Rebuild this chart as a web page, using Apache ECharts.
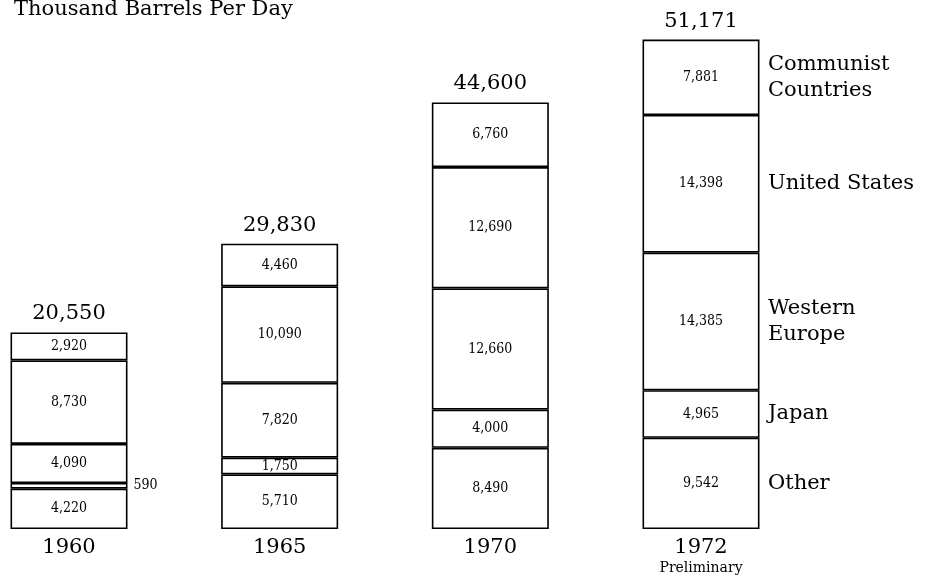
<!DOCTYPE html>
<html>
<head>
<meta charset="utf-8">
<script src="https://cdn.jsdelivr.net/npm/echarts@6/dist/echarts.min.js"></script>
<style>
  html, body { margin: 0; padding: 0; background: #fff; }
  #chart { width: 949px; height: 578px; }
</style>
</head>
<body>
<div id="chart"></div>
<script>
// data, bottom of the stack first
const years = ['1960', '1965', '1970', '1972']
const regions = ['Other', 'Japan', 'Western Europe', 'United States', 'Communist Countries']
const regionLabels = ['Other', 'Japan', 'Western\nEurope', 'United States', 'Communist\nCountries']
const other = [4220, 5710, 8490, 9542]
const japan = [590, 1750, 4000, 4965]
const westernEurope = [4090, 7820, 12660, 14385]
const unitedStates = [8730, 10090, 12690, 14398]
const communist = [2920, 4460, 6760, 7881]
const totals = [20550, 29830, 44600, 51171]

const serif = 'DejaVu Serif'
const smallSerif = "'DejaVu Serif Condensed', 'DejaVu Serif', serif"
const fmt = v => v.toLocaleString('en-US')
const seriesValues = [other, japan, westernEurope, unitedStates, communist]

const barSeries = seriesValues.map((vals, i) => ({
  name: regions[i],
  type: 'bar',
  stack: 'total',
  barWidth: 117,
  clip: false,
  itemStyle: {
    color: '#fff',
    borderColor: '#000',
    borderWidth: 1.6
  },
  label: {
    show: true,
    position: 'inside',
    color: '#000',
    fontFamily: smallSerif,
    fontSize: 14,
    formatter: p => fmt(p.value)
  },
  data: vals.map(v => {
    // the 590 slice is too thin, its label sits beside the bar
    if (v < 1000) {
      return { value: v, label: { position: 'right', distance: 6 } }
    }
    return v
  })
}))

// label positions for the names, middle of each 1972 slice
const last = years.length - 1
let run = 0
const nameData = seriesValues.map((vals, i) => {
  const mid = run + vals[last] / 2
  run += vals[last]
  return { value: [years[last], mid], name: regionLabels[i] }
})

const options = {
  backgroundColor: '#fff',
  animation: false,
  title: {
    text: 'Thousand Barrels Per Day',
    left: 9,
    top: -6,
    textStyle: {
      fontFamily: serif,
      fontWeight: 'normal',
      fontSize: 21,
      color: '#000'
    }
  },
  grid: {
    left: 69,
    right: 248,
    top: 3,
    bottom: 49
  },
  xAxis: {
    type: 'category',
    data: years,
    boundaryGap: false,
    axisLine: { show: false },
    axisTick: { show: false },
    axisLabel: {
      interval: 0,
      margin: 8,
      color: '#000',
      fontFamily: serif,
      fontSize: 21,
      formatter: v => (v === '1972' ? '{y|1972}\n{p|Preliminary}' : '{y|' + v + '}'),
      rich: {
        y: { fontFamily: serif, fontSize: 21, lineHeight: 22, color: '#000' },
        p: { fontFamily: serif, fontSize: 14, lineHeight: 18, color: '#000' }
      }
    }
  },
  yAxis: {
    type: 'value',
    min: 0,
    max: 55000,
    show: false,
    splitLine: { show: false }
  },
  series: [
    ...barSeries,
    {
      // totals above each bar
      type: 'scatter',
      symbolSize: 0,
      silent: true,
      itemStyle: { opacity: 1 },
      label: {
        show: true,
        position: 'top',
        distance: 8,
        color: '#000',
        opacity: 1,
        fontFamily: serif,
        fontSize: 21,
        formatter: p => fmt(p.value[1])
      },
      data: years.map((y, i) => [y, totals[i]])
    },
    {
      // region names to the right of 1972
      type: 'scatter',
      symbolSize: 0,
      silent: true,
      itemStyle: { opacity: 1 },
      label: {
        show: true,
        position: 'right',
        distance: 67,
        align: 'left',
        color: '#000',
        opacity: 1,
        fontFamily: serif,
        fontSize: 21,
        lineHeight: 26,
        formatter: p => p.name
      },
      data: nameData
    }
  ]
}

const chart = echarts.init(document.getElementById('chart'))
chart.setOption(options)
window.addEventListener('resize', function () {
  chart && chart.resize()
})
</script>
</body>
</html>
